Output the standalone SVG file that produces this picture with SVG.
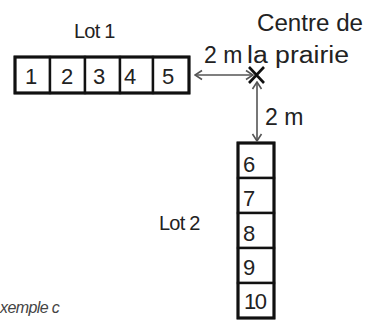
<svg xmlns="http://www.w3.org/2000/svg" width="370" height="320" viewBox="0 0 370 320">
<style>
.t{font-family:"Liberation Sans",Arial,sans-serif;fill:#222}
.num{font-size:22px}
.lbl{font-size:20px}
.big{font-size:23px}
.cell{fill:#fff;stroke:#111;stroke-width:2.4}
.outer{fill:none;stroke:#111;stroke-width:3}
.dim{stroke:#555;stroke-width:1.6;fill:none}
</style>
<defs>
<marker id="ah" viewBox="-9 -6 10 12" markerWidth="10" markerHeight="12" refX="0" refY="0" orient="auto-start-reverse" markerUnits="userSpaceOnUse">
<path d="M-7,-4.5 L0,0 L-7,4.5" fill="none" stroke="#555" stroke-width="1.6"/>
</marker>
</defs>
<rect width="370" height="320" fill="#fff"/>
<g id="lot1">
<rect class="cell" x="15" y="57" width="35" height="36"/>
<rect class="cell" x="50" y="57" width="35" height="36"/>
<rect class="cell" x="85" y="57" width="35" height="36"/>
<rect class="cell" x="120" y="57" width="33" height="36"/>
<rect class="cell" x="153" y="57" width="36" height="36"/>
<rect class="outer" x="15" y="57" width="174" height="36"/>
<text class="t num" x="25" y="84">1</text>
<text class="t num" x="61" y="84">2</text>
<text class="t num" x="93" y="84">3</text>
<text class="t num" x="124" y="84">4</text>
<text class="t num" x="162" y="84">5</text>
<text class="t lbl" x="74" y="38" letter-spacing="-0.8">Lot 1</text>
</g>
<g id="lot2">
<rect class="cell" x="238" y="143" width="36" height="35"/>
<rect class="cell" x="238" y="178" width="36" height="35"/>
<rect class="cell" x="238" y="213" width="36" height="35"/>
<rect class="cell" x="238" y="248" width="36" height="35"/>
<rect class="cell" x="238" y="283" width="36" height="35"/>
<rect class="outer" x="238" y="143" width="36" height="175"/>
<text class="t num" x="243" y="172">6</text>
<text class="t num" x="243" y="206">7</text>
<text class="t num" x="243" y="241">8</text>
<text class="t num" x="243" y="275">9</text>
<text class="t num" x="244" y="309" letter-spacing="-1.5">10</text>
<text class="t lbl" x="159" y="230" letter-spacing="-0.8">Lot 2</text>
</g>
<g id="centre">
<path d="M249,67 L264,83 M249,83 L264,67" stroke="#111" stroke-width="2.6"/>
<text class="t big" x="257" y="31" font-size="24" textLength="106" lengthAdjust="spacingAndGlyphs">Centre de</text>
<text class="t big" x="247" y="63" font-size="24" textLength="102" lengthAdjust="spacingAndGlyphs">la prairie</text>
</g>
<g id="connectors">
<line class="dim" x1="195" y1="75" x2="253" y2="75" marker-start="url(#ah)" marker-end="url(#ah)"/>
<line class="dim" x1="257" y1="82" x2="257" y2="141" marker-start="url(#ah)" marker-end="url(#ah)"/>
<text class="t big" x="204" y="63">2 m</text>
<text class="t big" x="265" y="125">2 m</text>
</g>
<text x="0" y="313" font-family="Liberation Sans,Arial,sans-serif" font-style="italic" font-size="16" letter-spacing="-0.6" fill="#444">xemple c</text>
</svg>
